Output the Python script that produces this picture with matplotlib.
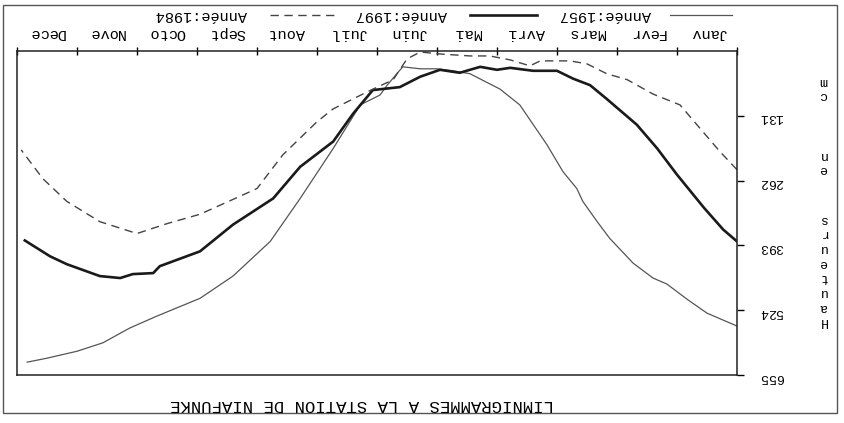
import matplotlib
matplotlib.use("Agg")
import matplotlib.pyplot as plt
from matplotlib.lines import Line2D
from matplotlib.patches import Rectangle

plt.rcParams['font.family'] = ['Liberation Mono', 'DejaVu Sans Mono']

W, H = 844, 423

months = ["Janv", "Fevr", "Mars", "Avri", "Mai", "Juin",
          "Juil", "Aout", "Sept", "Octo", "Nove", "Dece"]
yticks = [131, 262, 393, 524, 655]
title = "LIMNIGRAMMES A LA STATION DE NIAFUNKE"

# x in months (0 = 1er janvier), hauteur en cm
m_1957 = [0, 0.5, 0.83, 1.17, 1.4, 1.73, 2.12, 2.33, 2.57, 2.67, 2.9, 3.17,
          3.62, 3.95, 4.45, 4.73, 5.0, 5.28, 5.57, 5.67, 5.83, 5.95, 6.28,
          6.73, 7.28, 7.78, 8.4, 8.95, 9.67, 10.12, 10.57, 11.0, 11.5, 11.83]
h_1957 = [556, 530, 502, 471, 459, 429, 379, 345, 304, 278, 244, 189,
          109, 77, 46, 40, 36, 36, 32, 46, 69, 89, 109,
          197, 298, 385, 455, 500, 536, 560, 590, 607, 621, 629]

m_1997 = [0, 0.23, 0.55, 1.0, 1.33, 1.67, 2.17, 2.45, 2.73, 3.0, 3.4, 3.78,
          4.0, 4.28, 4.62, 4.95, 5.28, 5.62, 6.07, 6.4, 6.73, 7.28, 7.73,
          8.4, 8.95, 9.62, 9.73, 10.07, 10.28, 10.62, 11.17, 11.45, 11.87]
h_1997 = [385, 361, 317, 250, 197, 149, 97, 69, 56, 40, 40, 34,
          38, 32, 44, 38, 52, 73, 79, 127, 183, 234, 298,
          351, 405, 435, 449, 451, 459, 455, 431, 415, 383]

m_1984 = [0, 0.28, 0.57, 0.95, 1.4, 1.83, 2.17, 2.5, 2.78, 3.28, 3.45, 3.78,
          4.12, 4.45, 4.95, 5.28, 5.5, 5.73, 6.17, 6.73, 7.0, 7.57, 8.0,
          8.4, 8.95, 9.5, 10.0, 10.62, 11.17, 11.57, 11.93]
h_1984 = [240, 204, 163, 109, 87, 58, 46, 26, 20, 20, 30, 18,
          10, 10, 6, 2, 16, 58, 83, 117, 143, 210, 278,
          300, 330, 349, 369, 345, 304, 258, 200]

fig = plt.figure(figsize=(W / 100, H / 100), dpi=100)
fig.patch.set_facecolor('white')

# scanned page is upside down: both axes inverted, all text turned 180
ax = fig.add_axes([17 / W, 1 - 375 / H, 720 / W, 324 / H])
ax.plot(m_1957, h_1957, color='#555555', lw=0.9)
ax.plot(m_1997, h_1997, color='#1a1a1a', lw=1.9)
ax.plot(m_1984, h_1984, color='#444444', lw=1.0, dashes=(6, 4))
ax.set_xlim(12, 0)
ax.set_ylim(655, 0)

for s in ax.spines.values():
    s.set_linewidth(1.1)
    s.set_color('#222222')

ax.xaxis.tick_top()
ax.set_xticks(range(13))
ax.set_xticklabels([])
ax.set_xticks([i + 0.5 for i in range(12)], minor=True)
ax.set_xticklabels(months, minor=True, rotation=180, fontsize=11)
ax.tick_params(axis='x', which='major', direction='inout', length=6, width=1)
ax.tick_params(axis='x', which='minor', length=0, pad=8)

ax.yaxis.tick_right()
ax.set_yticks(yticks)
ax.set_yticklabels([str(v) for v in yticks], rotation=180, fontsize=9.5)
ax.tick_params(axis='y', direction='out', length=5, width=1, pad=11)

# y label, letters stacked one above the other (3 words)
for word, yc in [("Hauteurs", 270), ("en", 162), ("cm", 88)]:
    fig.text(823 / W, 1 - yc / H, "\n".join(word), rotation=180, fontsize=9.5,
             ha='center', va='center', linespacing=1.3)

fig.text(362 / W, 1 - 404 / H, title, rotation=180, fontsize=12.5,
         ha='center', va='center')

# legend (drawn by hand, upside down)
leg_y = 1 - 15 / H
fig.add_artist(Line2D([670 / W, 732 / W], [leg_y, leg_y], color='#555555', lw=0.9))
fig.text(605 / W, leg_y, "Année:1957", rotation=180, fontsize=11, ha='center', va='center')
fig.add_artist(Line2D([470 / W, 537 / W], [leg_y, leg_y], color='#1a1a1a', lw=1.9))
fig.text(401 / W, leg_y, "Année:1997", rotation=180, fontsize=11, ha='center', va='center')
fig.add_artist(Line2D([270 / W, 337 / W], [leg_y, leg_y], color='#444444', lw=1.0, dashes=(6, 4)))
fig.text(201 / W, leg_y, "Année:1984", rotation=180, fontsize=11, ha='center', va='center')

# outer frame of the scanned figure
fig.add_artist(Rectangle((3 / W, 1 - 413 / H), 834 / W, 408 / H, fill=False,
                         edgecolor='#555555', lw=1.0, transform=fig.transFigure))

fig.savefig("out.png", dpi=100)
